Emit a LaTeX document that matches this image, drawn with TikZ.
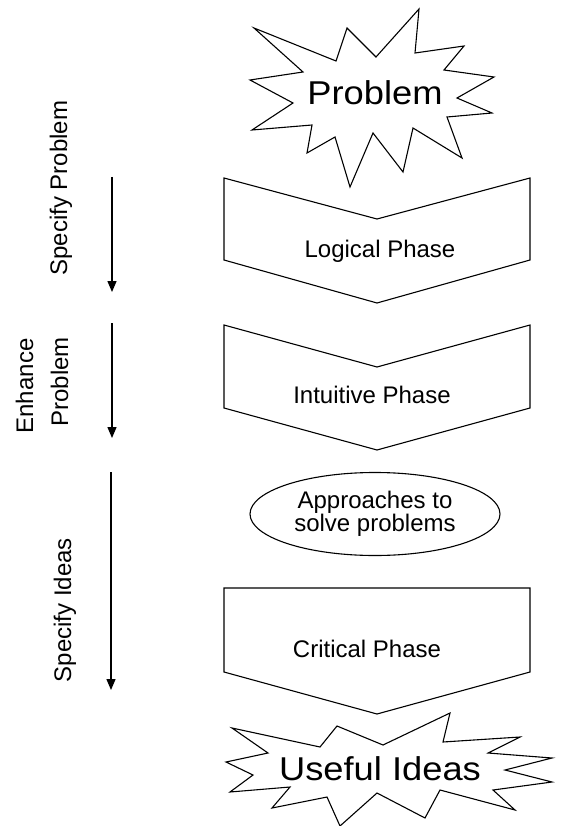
\documentclass[tikz,border=0pt]{standalone}
\usepackage{fontspec}
\setmainfont{Liberation Sans}
\usepackage{graphicx}
\usetikzlibrary{arrows.meta,shapes.geometric}
\begin{document}
\begin{tikzpicture}[x=1pt,y=-1pt,
  shapeline/.style={draw=black,line width=1.1pt,line join=miter,fill=white},
  phasetext/.style={font=\fontsize{24}{26}\selectfont,anchor=base,inner sep=0pt},
  bigtext/.style={font=\fontsize{33}{36}\selectfont,anchor=base,inner sep=0pt},
  sidetext/.style={font=\fontsize{24}{26}\selectfont,rotate=90,anchor=base,inner sep=0pt},
  flowarrow/.style={line width=1.3pt,-{Triangle[width=9pt,length=11pt]}}]
\useasboundingbox (0,0) rectangle (566,826);

% Problem star
\draw[shapeline] (254,28) -- (336,61) -- (347,28) -- (376,57) -- (419,9) -- (415,53)
  -- (464,46) -- (444,70) -- (494,77) -- (457,98) -- (492,113) -- (447,117)
  -- (462,158) -- (413,128) -- (403,172) -- (373,133) -- (350,187) -- (335,137)
  -- (307,153) -- (312,125) -- (252,130) -- (293,103) -- (250,80) -- (303,72) -- cycle;
\node[bigtext] (problem) at (375,105) {\scalebox{1.1}[1]{Problem}};

% Logical phase chevron
\draw[shapeline] (224,178) -- (377,219) -- (530,178) -- (530,260) -- (377,303) -- (224,260) -- cycle;
\node[phasetext] (logical) at (380,257) {Logical Phase};

% Intuitive phase chevron
\draw[shapeline] (224,325) -- (377,367) -- (530,325) -- (530,408) -- (377,450) -- (224,408) -- cycle;
\node[phasetext] (intuitive) at (372,403) {Intuitive Phase};

% Approaches ellipse
\node[ellipse,draw=black,line width=1.1pt,minimum width=250pt,minimum height=83pt,
  inner sep=0pt,align=center,font=\fontsize{24}{21.7}\selectfont] (approaches) at (375,514)
  {Approaches to\\solve problems};

% Critical phase pentagon
\draw[shapeline] (224,588) -- (530,588) -- (530,672) -- (377,714) -- (224,672) -- cycle;
\node[phasetext] (critical) at (367,657) {Critical Phase};

% Useful Ideas star
\draw[shapeline] (232,728) -- (320,747) -- (337,726) -- (383,745) -- (450,713) -- (443,742)
  -- (520,737) -- (488,753) -- (552,758) -- (505,770) -- (552,782) -- (493,790)
  -- (515,810) -- (440,790) -- (425,818) -- (377,793) -- (340,826) -- (327,797)
  -- (272,808) -- (290,787) -- (230,792) -- (253,775) -- (226,762) -- (268,753) -- cycle;
\node[bigtext] (useful) at (380,780) {\scalebox{1.1}[1]{Useful Ideas}};

% side arrows
\coordinate (a1s) at (112,177); \coordinate (a1e) at (112,292);
\coordinate (a2s) at (112,323); \coordinate (a2e) at (112,438);
\coordinate (a3s) at (111,472); \coordinate (a3e) at (111,690);
\draw[flowarrow] (a1s) -- (a1e);
\draw[flowarrow] (a2s) -- (a2e);
\draw[flowarrow] (a3s) -- (a3e);

% side labels
\node[sidetext] (spec1) at (67,188) {Specify Problem};
\node[sidetext] (enh1) at (33,386) {Enhance};
\node[sidetext] (enh2) at (68,382) {Problem};
\node[sidetext] (spec2) at (71,610) {Specify Ideas};
\end{tikzpicture}
\end{document}
